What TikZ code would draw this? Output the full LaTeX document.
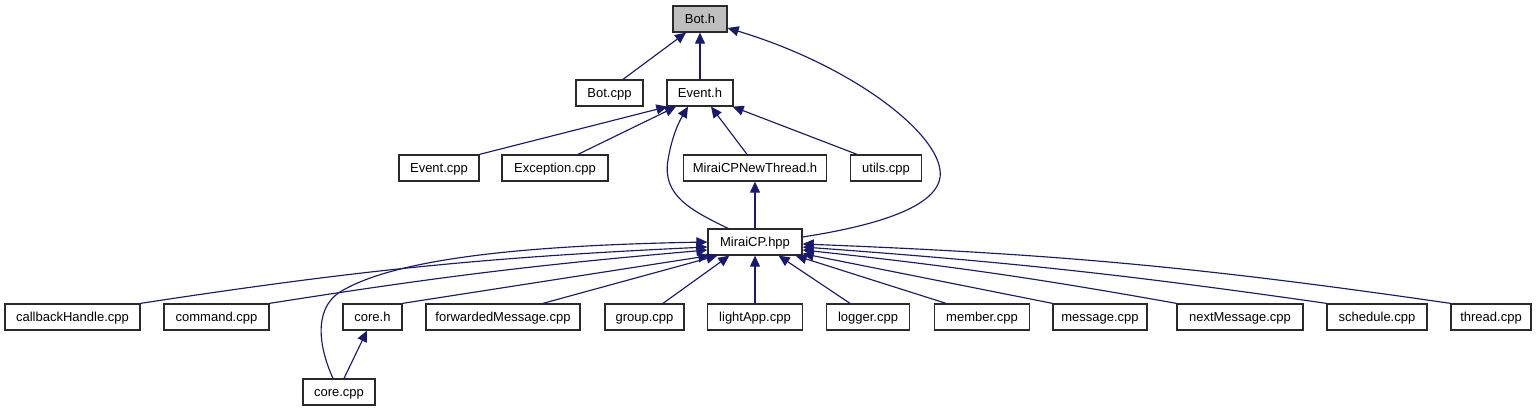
\documentclass[tikz,border=0pt]{standalone}
\usepackage{fontspec}
\setmainfont{Liberation Sans}
\usetikzlibrary{arrows.meta}
\definecolor{edgecol}{HTML}{191970}
\definecolor{hdr}{HTML}{BFBFBF}
\definecolor{boxline}{HTML}{2A2A2A}
\begin{document}
\begin{tikzpicture}[x=1pt,y=-1pt,
  box/.style={draw=boxline, line width=1.3pt, fill=white, minimum height=26pt, inner sep=0pt, text height=10.5pt, text depth=1.5pt, font=\fontsize{13}{15}\selectfont},
  dep/.style={draw=edgecol, line width=1.15pt, -{Triangle[length=11pt,width=10pt]}, fill=none}]
\useasboundingbox (0,0) rectangle (1538,411);
% nodes
\node[box, minimum width=54pt, fill=hdr] (both) at (700,19) {Bot.h};
\node[box, minimum width=67pt] (botcpp) at (609.5,93) {Bot.cpp};
\node[box, minimum width=66pt] (eventh) at (700,93) {Event.h};
\node[box, minimum width=80pt] (eventcpp) at (439,168) {Event.cpp};
\node[box, minimum width=106pt] (exception) at (555,168) {Exception.cpp};
\node[box, minimum width=143pt] (newthread) at (755,168) {MiraiCPNewThread.h};
\node[box, minimum width=71pt] (utils) at (886,168) {utils.cpp};
\node[box, minimum width=94pt] (miraicp) at (755,242) {MiraiCP.hpp};
\node[box, minimum width=135pt] (cb) at (72.5,317) {callbackHandle.cpp};
\node[box, minimum width=105pt] (cmd) at (216.5,317) {command.cpp};
\node[box, minimum width=59pt] (coreh) at (372.5,317) {core.h};
\node[box, minimum width=154pt] (fwd) at (503,317) {forwardedMessage.cpp};
\node[box, minimum width=79pt] (group) at (644.5,317) {group.cpp};
\node[box, minimum width=95pt] (light) at (755,317) {lightApp.cpp};
\node[box, minimum width=83pt] (logger) at (868,317) {logger.cpp};
\node[box, minimum width=95pt] (member) at (982,317) {member.cpp};
\node[box, minimum width=94pt] (message) at (1100,317) {message.cpp};
\node[box, minimum width=126pt] (next) at (1240,317) {nextMessage.cpp};
\node[box, minimum width=100pt] (schedule) at (1377,317) {schedule.cpp};
\node[box, minimum width=80pt] (thread) at (1491,317) {thread.cpp};
\node[box, minimum width=72pt] (corecpp) at (339,392) {core.cpp};
% edges to Bot.h
\draw[dep] ([xshift=13.5pt]botcpp.north) -- ([xshift=-14pt]both.south);
\draw[dep] (eventh.north) -- (both.south);
\draw[dep] ([yshift=5pt]miraicp.east) .. controls (880,225) and (945,205) .. (940,170)
  .. controls (935,130) and (850,65) .. ([yshift=-9pt]both.east);
% edges to Event.h
\draw[dep] (eventcpp.north east) -- ([xshift=1pt]eventh.south west);
\draw[dep] ([xshift=23pt]exception.north) -- ([xshift=-24pt]eventh.south);
\draw[dep] ([xshift=-27pt]miraicp.north) .. controls (690,210) and (662,195) .. (668,160)
  .. controls (672,135) and (680,120) .. ([xshift=-12pt]eventh.south);
\draw[dep] ([xshift=-8pt]newthread.north) -- ([xshift=11pt]eventh.south);
\draw[dep] ([xshift=-29pt]utils.north) -- ([xshift=-1pt]eventh.south east);
% to MiraiCPNewThread.h
\draw[dep] (miraicp.north) -- (newthread.south);
% core.cpp
\draw[dep] ([xshift=5pt]corecpp.north) -- ([xshift=-5.5pt]coreh.south);
\draw[dep] ([xshift=-6pt]corecpp.north) .. controls (320,350) and (312,310) .. (340,292)
  .. controls (400,255) and (550,245) .. (miraicp.west);
% row 4 to MiraiCP.hpp
\draw[dep] (cb.north east) to[bend left=3] ([yshift=-5pt]miraicp.west);
\draw[dep] (cmd.north east) to[bend left=2] ([yshift=-8pt]miraicp.west);
\draw[dep] (coreh.north east) -- ([xshift=2pt]miraicp.south west);
\draw[dep] ([xshift=40pt]fwd.north) -- ([xshift=10pt]miraicp.south west);
\draw[dep] ([xshift=18.5pt]group.north) -- ([xshift=22pt]miraicp.south west);
\draw[dep] (light.north) -- (miraicp.south);
\draw[dep] ([xshift=-18pt]logger.north) -- ([xshift=-24pt]miraicp.south east);
\draw[dep] ([xshift=-36pt]member.north) -- ([xshift=-7pt]miraicp.south east);
\draw[dep] (message.north west) -- ([yshift=2pt]miraicp.south east);
\draw[dep] (next.north west) to[bend right=2] ([yshift=-8pt]miraicp.east);
\draw[dep] (schedule.north west) to[bend right=2] ([yshift=-5pt]miraicp.east);
\draw[dep] (thread.north west) to[bend right=3] ([yshift=-2pt]miraicp.east);
\end{tikzpicture}
\end{document}
